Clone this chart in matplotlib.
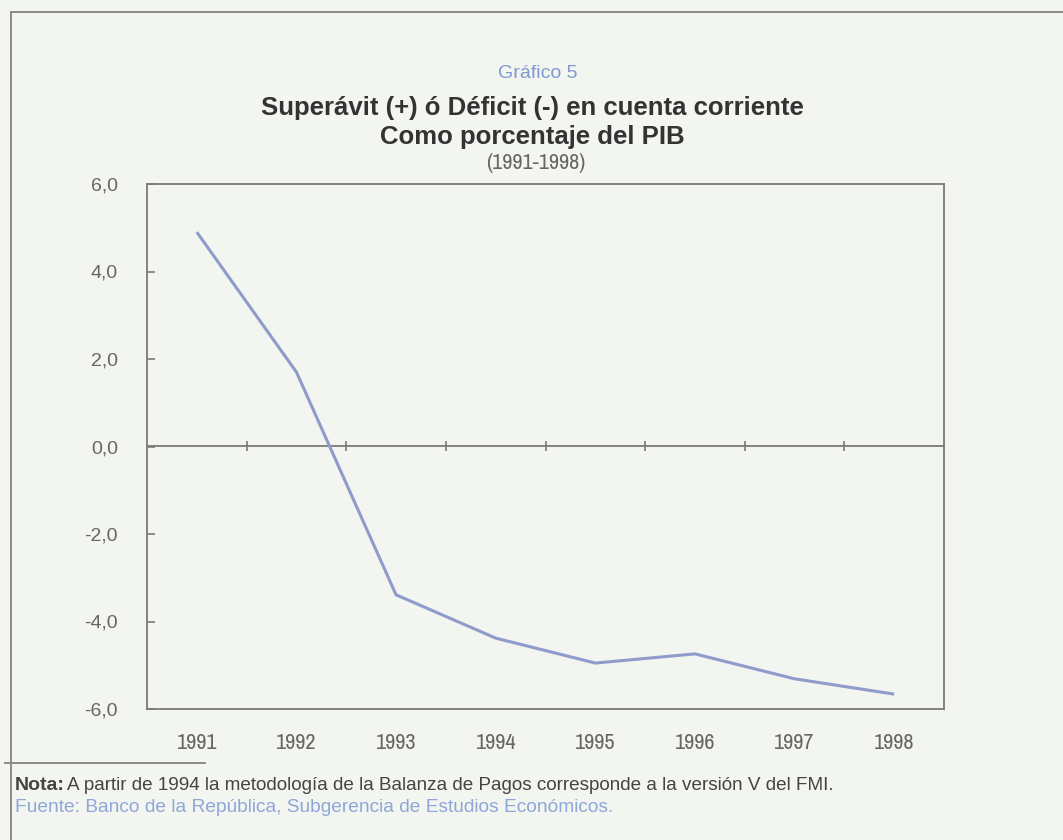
import matplotlib
matplotlib.use("Agg")
import matplotlib.pyplot as plt
from matplotlib.lines import Line2D
from matplotlib import font_manager

years = ["1991", "1992", "1993", "1994", "1995", "1996", "1997", "1998"]
values = [4.90, 1.70, -3.39, -4.38, -4.95, -4.74, -5.31, -5.66]
ytick_vals = [6, 4, 2, 0, -2, -4, -6]
ytick_labels = ["6,0", "4,0", "2,0", "0,0", "-2,0", "-4,0", "-6,0"]

names = {f.name for f in font_manager.fontManager.ttflist}
narrow = "Liberation Sans"
for cand in ["Liberation Sans Narrow", "Archivo Narrow", "PT Sans Narrow"]:
    if cand in names:
        narrow = cand
        break
NARROW = [narrow, 'DejaVu Sans']
plt.rcParams['font.family'] = ['Liberation Sans', 'DejaVu Sans']

W, H = 1063, 840
BG = "#f2f5f0"
GREY = "#7a7a7a"
TXT = "#666666"
fig = plt.figure(figsize=(W/100, H/100), dpi=100, facecolor=BG)

def fx(x): return x / W
def fy(y): return 1 - y / H

left, right, top, bottom = 147, 944, 184, 709
ax = fig.add_axes([fx(left), fy(bottom), fx(right-left), (bottom-top)/H])
ax.set_facecolor(BG)
x = list(range(len(years)))
ax.plot(x, values, color="#8f9bcb", lw=2.2, solid_capstyle="butt", zorder=3)
ax.set_xlim(-0.5, len(years) - 0.5)
ax.set_ylim(-6, 6)
for s in ax.spines.values():
    s.set_color(GREY)
    s.set_linewidth(1.3)

ax.set_xticks(x)
ax.set_xticklabels(years, family=NARROW, fontsize=16, color=TXT)
ax.tick_params(axis='x', length=0, pad=17)
ax.set_yticks(ytick_vals)
ax.set_yticklabels(ytick_labels, fontsize=14, color=TXT)
ax.tick_params(axis='y', direction='in', length=6, width=1.2, color=GREY, pad=21)

# zero line with category boundary ticks
sec = ax.secondary_xaxis(0.5)
for s in sec.spines.values():
    s.set_color(GREY)
    s.set_linewidth(1.3)
sec.set_xticks([i + 0.5 for i in x[:-1]])
sec.set_xticklabels([])
sec.tick_params(direction='inout', length=7, width=1.2, color=GREY)

# titles
cx = 532
fig.text(fx(cx+6), fy(73), "Gráfico 5", ha='center', va='center', fontsize=14, color="#7f9ad0")
fig.text(fx(cx), fy(108), "Superávit (+) ó Déficit (-) en cuenta corriente", ha='center', va='center',
         fontsize=18.5, fontweight='bold', color="#333333")
fig.text(fx(cx), fy(137), "Como porcentaje del PIB", ha='center', va='center',
         fontsize=18.5, fontweight='bold', color="#333333")
fig.text(fx(cx+4), fy(163), "(1991-1998)", ha='center', va='center', family=NARROW,
         fontsize=16, color=TXT)

# notes
fig.text(fx(15), fy(786), "Nota:", ha='left', va='center', fontsize=14,
         fontweight='bold', color="#444444")
fig.text(fx(67), fy(786), "A partir de 1994 la metodología de la Balanza de Pagos corresponde a la versión V del FMI.",
         ha='left', va='center', fontsize=13.6, color="#444444")
fig.text(fx(15), fy(808), "Fuente: Banco de la República, Subgerencia de Estudios Económicos.",
         ha='left', va='center', fontsize=13.8, color="#8fa6d8")

# frame lines
fig.add_artist(Line2D([fx(11), fx(W)], [fy(12), fy(12)], color="#8a8a8a", lw=1.4))
fig.add_artist(Line2D([fx(11), fx(11)], [fy(12), fy(H)], color="#8a8a8a", lw=1.4))
fig.add_artist(Line2D([fx(5), fx(205)], [fy(763), fy(763)], color="#8a8a8a", lw=1.4))

fig.savefig("out.png", dpi=100, facecolor=BG)
